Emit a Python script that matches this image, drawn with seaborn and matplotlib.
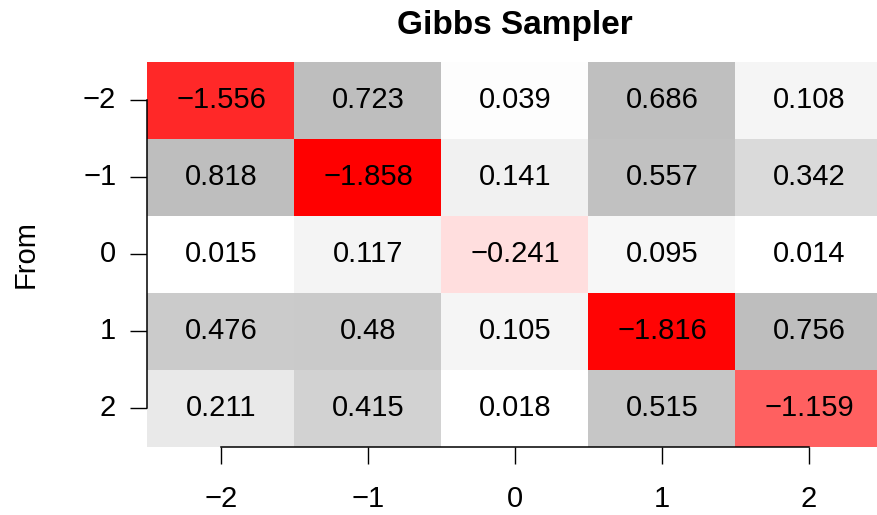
import numpy as np
import pandas as pd
import seaborn as sns
import matplotlib
matplotlib.use("Agg")
import matplotlib.pyplot as plt
from matplotlib.colors import LinearSegmentedColormap, TwoSlopeNorm

states = [-2, -1, 0, 1, 2]
row_m2 = [-1.556, 0.723, 0.039, 0.686, 0.108]
row_m1 = [0.818, -1.858, 0.141, 0.557, 0.342]
row_0 = [0.015, 0.117, -0.241, 0.095, 0.014]
row_1 = [0.476, 0.48, 0.105, -1.816, 0.756]
row_2 = [0.211, 0.415, 0.018, 0.515, -1.159]
title = "Gibbs Sampler"
ylabel = "From"

sns.set_style("white")
plt.rcParams['font.family'] = ['Liberation Sans', 'DejaVu Sans']
plt.rcParams['text.color'] = 'black'
plt.rcParams['axes.labelcolor'] = 'black'
plt.rcParams['xtick.color'] = 'black'
plt.rcParams['ytick.color'] = 'black'

df = pd.DataFrame([row_m2, row_m1, row_0, row_1, row_2], index=states, columns=states)
vals = df.values
labels = np.array([[f"{v:g}".replace("-", "\u2212") for v in r] for r in vals])

vmin, vmax = vals.min(), vals.max()
norm = TwoSlopeNorm(vmin=vmin, vcenter=0.0, vmax=vmax)
gsat = 0.5 + 0.5 * 0.58 / vmax
cmap = LinearSegmentedColormap.from_list(
    "rw_gray",
    [(0.0, (1, 0, 0)), (0.5, (1, 1, 1)), (0.5 + 0.5 * 0.02 / vmax, (1, 1, 1)),
     (gsat, (0.75, 0.75, 0.75)), (1.0, (0.745, 0.745, 0.745))],
)

fig = plt.figure(figsize=(8.78, 5.15), dpi=100)
ax = fig.add_axes([147.5 / 878, 1 - 446.5 / 515, 735 / 878, 385 / 515])

sns.heatmap(df, ax=ax, cmap=cmap, norm=norm, annot=labels, fmt="", cbar=False,
            annot_kws={"fontsize": 21, "color": "black"})

ax.set_xticks(np.arange(5) + 0.5)
ax.set_xticklabels([str(s).replace("-", "\u2212") for s in states], fontsize=21, rotation=0)
ax.set_yticks(np.arange(5) + 0.5)
ax.set_yticklabels([str(s).replace("-", "\u2212") for s in states], fontsize=21, rotation=0)
ax.set_xlabel("")
ax.set_ylabel(ylabel, fontsize=21, labelpad=31, color="black")
ax.set_title(title, fontsize=24, fontweight="bold", pad=20, color="black")

for side in ["left", "bottom"]:
    ax.spines[side].set_visible(True)
    ax.spines[side].set_linewidth(1.1)
    ax.spines[side].set_color("black")
    ax.spines[side].set_bounds(0.5, 4.5)
for side in ["right", "top"]:
    ax.spines[side].set_visible(False)

ax.tick_params(axis="both", which="major", bottom=True, left=True, top=False, right=False,
               direction="out", length=12.5, width=1.0, color="black", labelcolor="black")
ax.tick_params(axis="y", pad=10)
ax.tick_params(axis="x", pad=15)
ax.set_zorder(1)

fig.savefig("out.png", dpi=100)
